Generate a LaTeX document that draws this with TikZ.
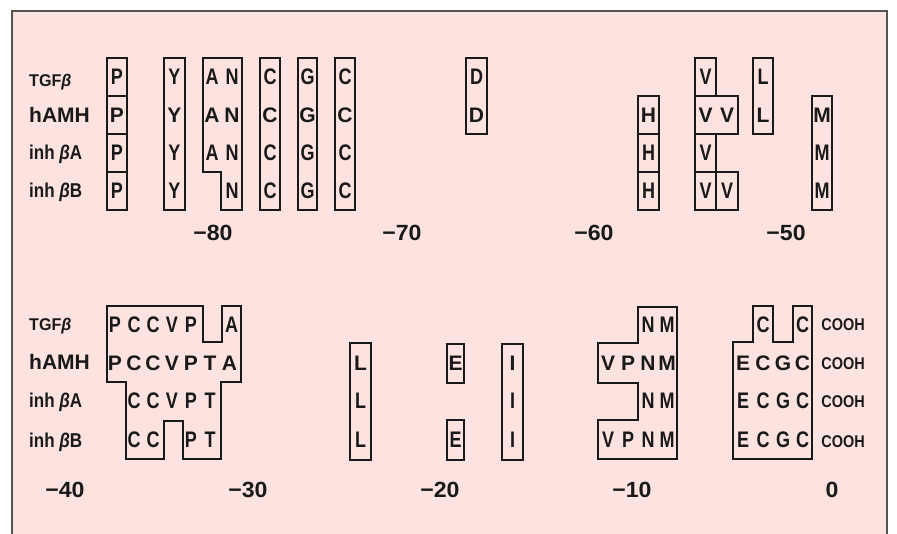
\documentclass[tikz,border=0pt]{standalone}
\usepackage{fontspec}
\setmainfont{Liberation Sans}
\newfontfamily\condf[FakeStretch=0.8]{Liberation Sans}
\newfontfamily\labf[FakeStretch=0.85]{Liberation Sans}
\newfontfamily\labsf[FakeStretch=0.95]{Liberation Sans}
\newfontfamily\numf[FakeStretch=1.05]{Liberation Sans}
\definecolor{bgpink}{RGB}{253,227,224}
\definecolor{ink}{RGB}{25,25,25}
\definecolor{framec}{RGB}{85,85,85}
\tikzset{
  res/.style={anchor=base, inner sep=0pt, text=ink, font=\condf\bfseries\fontsize{22.5}{22.5}\selectfont},
  resb/.style={anchor=base, inner sep=0pt, text=ink, font=\bfseries\fontsize{21}{21}\selectfont},
  box/.style={draw=ink, line width=1.7pt, line join=miter},
  rowlab/.style={anchor=base west, inner sep=0pt, text=ink, font=\labf\bfseries\fontsize{20}{20}\selectfont},
  rowlabs/.style={anchor=base west, inner sep=0pt, text=ink, font=\labsf\bfseries\fontsize{17}{17}\selectfont},
  rowlabb/.style={anchor=base west, inner sep=0pt, text=ink, font=\bfseries\fontsize{21}{21}\selectfont},
  cooh/.style={anchor=base, inner sep=0pt, text=ink, font=\labf\bfseries\fontsize{17}{17}\selectfont},
  num/.style={anchor=base, inner sep=0pt, text=ink, font=\numf\bfseries\fontsize{22}{22}\selectfont},
}
\begin{document}
\begin{tikzpicture}[x=1pt,y=-1pt]
\useasboundingbox (0,0) rectangle (897,534);
\fill[bgpink] (12,11) rectangle (887,534);
\draw[framec, line width=2pt] (12,534) -- (12,11) -- (887,11) -- (887,534);

% ---------- row labels ----------
\node[rowlabs] (l1a) at (29,86.5) {TGF\textit{β}};
\node[rowlabb] (l1b) at (29,123) {hAMH};
\node[rowlab]  (l1c) at (29,160) {inh \textit{β}A};
\node[rowlab]  (l1d) at (29,198) {inh \textit{β}B};
\node[rowlabs] (l2a) at (29,331) {TGF\textit{β}};
\node[rowlabb] (l2b) at (29,370) {hAMH};
\node[rowlab]  (l2c) at (29,408) {inh \textit{β}A};
\node[rowlab]  (l2d) at (29,447) {inh \textit{β}B};

% ---------- top block boxes ----------
\draw[box] (107,58) rectangle (127,210);
\draw[box] (107,96) -- (127,96) (107,134) -- (127,134) (107,172) -- (127,172);
\draw[box] (164,58) rectangle (185,210);
\draw[box] (203,58) -- (242,58) -- (242,210) -- (221,210) -- (221,172) -- (203,172) -- cycle;
\draw[box] (260,58) rectangle (280,210);
\draw[box] (298,58) rectangle (317,210);
\draw[box] (335,58) rectangle (355,210);
\draw[box] (466,58) rectangle (487,134);
\draw[box] (638,96) rectangle (659,210);
\draw[box] (638,134) -- (659,134) (638,172) -- (659,172);
\draw[box] (695,58) rectangle (716,96);
\draw[box] (695,96) rectangle (738,134);
\draw[box] (695,134) rectangle (716,172);
\draw[box] (695,172) rectangle (716,210);
\draw[box] (716,172) rectangle (738,210);
\draw[box] (753,58) rectangle (773,134);
\draw[box] (812,96) rectangle (832,210);

% ---------- top block residues ----------
\foreach \x/\t [count=\n] in {117/P,174.5/Y,212/A,232/N,270/C,307.5/G,345/C,476.5/D,705.5/V,763/L}
  \node[res] (ta\n) at (\x,85) {\t};
\foreach \x/\t [count=\n] in {117/P,174.5/Y,212/A,232/N,270/C,307.5/G,345/C,476.5/D,648.5/H,705.5/V,727/V,763/L,822/M}
  \node[resb] (tb\n) at (\x,123) {\t};
\foreach \x/\t [count=\n] in {117/P,174.5/Y,212/A,232/N,270/C,307.5/G,345/C,648.5/H,705.5/V,822/M}
  \node[res] (tc\n) at (\x,161) {\t};
\foreach \x/\t [count=\n] in {117/P,174.5/Y,232/N,270/C,307.5/G,345/C,648.5/H,705.5/V,727/V,822/M}
  \node[res] (td\n) at (\x,199) {\t};

% ---------- top numbers ----------
\node[num] (n80) at (213,241) {−80};
\node[num] (n70) at (402,241) {−70};
\node[num] (n60) at (594,241) {−60};
\node[num] (n50) at (786,241) {−50};

% ---------- bottom block boxes ----------
\draw[box] (107,306) -- (203,306) -- (203,342) -- (222,342) -- (222,306) -- (241,306)
  -- (241,382) -- (221,382) -- (221,459) -- (183,459) -- (183,421) -- (164,421)
  -- (164,459) -- (126,459) -- (126,382) -- (107,382) -- cycle;
\draw[box] (350,343) rectangle (371,460);
\draw[box] (447,344) rectangle (464,383);
\draw[box] (447,420) rectangle (464,460);
\draw[box] (502,344) rectangle (523,460);
\draw[box] (638,307) -- (677,307) -- (677,459) -- (598,459) -- (598,420) -- (638,420)
  -- (638,383) -- (598,383) -- (598,343) -- (638,343) -- cycle;
\draw[box] (733,342) -- (753,342) -- (753,306) -- (773,306) -- (773,342) -- (793,342)
  -- (793,306) -- (812,306) -- (812,459) -- (733,459) -- cycle;

% ---------- bottom block residues ----------
\foreach \x/\t [count=\n] in {115/P,134/C,153/C,172/V,191/P,231.5/A,648/N,667/M,763/C,802.5/C}
  \node[res] (ba\n) at (\x,332.5) {\t};
\foreach \x/\t [count=\n] in {115/P,134/C,153/C,172/V,191/P,210/T,229.5/A,360.5/L,455.5/E,512.5/I,608/V,628/P,648/N,667/M,743/E,763/C,783/G,802.5/C}
  \node[resb] (bb\n) at (\x,370.5) {\t};
\foreach \x/\t [count=\n] in {134/C,153/C,172/V,191/P,210/T,360.5/L,512.5/I,648/N,667/M,743/E,763/C,783/G,802.5/C}
  \node[res] (bc\n) at (\x,409) {\t};
\foreach \x/\t [count=\n] in {134/C,153/C,191/P,210/T,360.5/L,455.5/E,512.5/I,608/V,628/P,648/N,667/M,743/E,763/C,783/G,802.5/C}
  \node[res] (bd\n) at (\x,447.5) {\t};
\foreach \y [count=\n] in {331,370,408,447}
  \node[cooh] (co\n) at (843,\y) {COOH};

% ---------- bottom numbers ----------
\node[num] (n40) at (65,497) {−40};
\node[num] (n30) at (248,497) {−30};
\node[num] (n20) at (440,497) {−20};
\node[num] (n10) at (632,497) {−10};
\node[num] (n0)  at (832,497) {0};
\end{tikzpicture}
\end{document}
